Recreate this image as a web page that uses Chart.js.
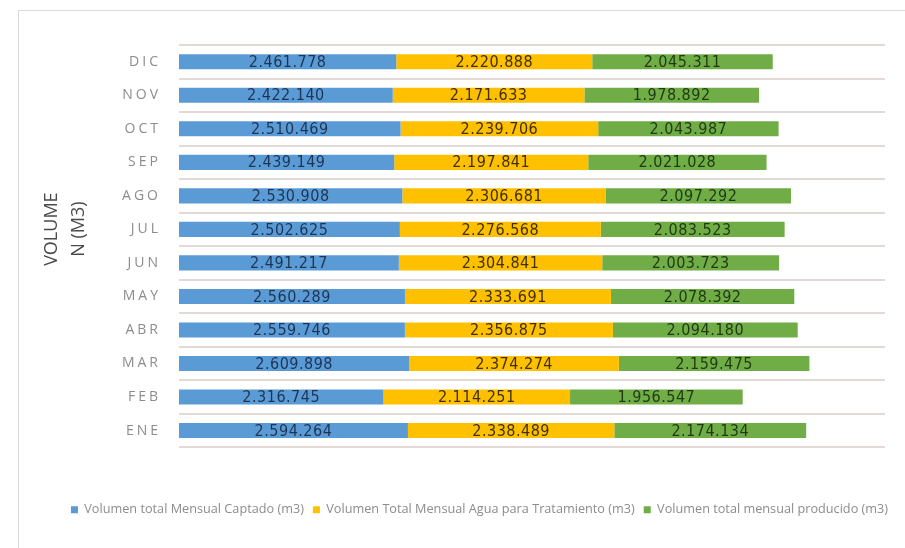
<!DOCTYPE html>
<html><head><meta charset="utf-8">
<script src="https://cdn.jsdelivr.net/npm/chart.js@4/dist/chart.umd.min.js"></script>
<style>
html,body{margin:0;padding:0;background:#fff;width:905px;height:548px;overflow:hidden}
#frame{position:absolute;left:18px;top:10px;width:1000px;height:1000px;border-left:1px solid #d9d9d9;border-top:1px solid #d9d9d9}
#wrap{position:absolute;left:0;top:0;width:905px;height:548px}
</style></head><body>
<div id="frame"></div>
<div id="wrap"><canvas id="c" width="905" height="548"></canvas></div>
<script>
const months = ["ENE","FEB","MAR","ABR","MAY","JUN","JUL","AGO","SEP","OCT","NOV","DIC"];
const captado = [2594264,2316745,2609898,2559746,2560289,2491217,2502625,2530908,2439149,2510469,2422140,2461778];
const tratamiento = [2338489,2114251,2374274,2356875,2333691,2304841,2276568,2306681,2197841,2239706,2171633,2220888];
const producido = [2174134,1956547,2159475,2094180,2078392,2003723,2083523,2097292,2021028,2043987,1978892,2045311];
const seriesNames = ["Volumen total Mensual Captado (m3)","Volumen Total Mensual Agua para Tratamiento (m3)","Volumen total mensual producido (m3)"];
const axisTitle = ["VOLUME","N (M3)"];
const xMax = 8000000;

const fmt = v => String(v).replace(/\B(?=(\d{3})+(?!\d))/g, ".");
const labelColors = ["#1c3557","#3f3000","#1e3a10"];

const valueLabels = {
  id:'valueLabels',
  afterDatasetsDraw(chart){
    const ctx = chart.ctx;
    ctx.save();
    ctx.letterSpacing = '0.5px';
    ctx.font = '16px "DejaVu Sans Condensed", "Liberation Sans Narrow", sans-serif';
    ctx.textAlign='center'; ctx.textBaseline='middle';
    chart.data.datasets.forEach((ds,di)=>{
      const meta = chart.getDatasetMeta(di);
      meta.data.forEach((el,i)=>{
        const cx = (el.x + el.base)/2;
        ctx.fillStyle = labelColors[di];
        ctx.fillText(fmt(ds.data[i]), cx, el.y+1);
      });
    });
    ctx.restore();
  }
};

const chart = new Chart(document.getElementById('c'), {
  type:'bar',
  data:{
    labels: months,
    datasets:[
      {label:seriesNames[0], data:captado, backgroundColor:'#5b9bd5'},
      {label:seriesNames[1], data:tratamiento, backgroundColor:'#ffc000'},
      {label:seriesNames[2], data:producido, backgroundColor:'#70ad47'}
    ]
  },
  options:{
    indexAxis:'y',
    responsive:false,
    animation:false,
    devicePixelRatio:1,
    layout:{padding:{left:30,right:20,top:45,bottom:22}},
    datasets:{bar:{categoryPercentage:1, barPercentage:0.45}},
    scales:{
      x:{stacked:true, min:0, max:xMax, grid:{display:false}, border:{display:false}, ticks:{display:false},
         afterFit(s){ s.height = 47; }},
      y:{stacked:true, reverse:true,
         grid:{color:'#e3d9d7', lineWidth:2, offset:true, drawTicks:false},
         border:{display:false},
         ticks:{color:'#8c8c8c', font:{family:'"Open Sans", sans-serif', size:14}, padding:18},
         title:{display:true, text:axisTitle, color:'#4a4a4a', font:{family:'"Open Sans", sans-serif', size:18, lineHeight:1.5}, padding:{top:8,bottom:0}},
         afterFit(s){ s.width = 149; }}
    },
    plugins:{
      legend:{position:'bottom', labels:{boxWidth:7, boxHeight:7, color:'#8c8c8c', font:{family:'"Open Sans", sans-serif', size:12.7}, padding:9}},
      tooltip:{enabled:false}
    }
  },
  plugins:[valueLabels]
});
const ys = chart.scales.y;
const origDrawLabels = ys.drawLabels.bind(ys);
ys.drawLabels = function(area){
  const ctx = this.ctx;
  ctx.save(); ctx.letterSpacing = '3px';
  origDrawLabels(area);
  ctx.restore();
};
const origDrawTitle = ys.drawTitle.bind(ys);
ys.drawTitle = function(){
  const ctx = this.ctx;
  ctx.save(); ctx.translate(0,-17);
  origDrawTitle();
  ctx.restore();
};
const lg = chart.legend;
const origLegendDraw = lg.draw.bind(lg);
lg.draw = function(){
  const ctx = this.ctx;
  ctx.save(); ctx.translate(22,0);
  origLegendDraw();
  ctx.restore();
};
chart.draw();
</script>
</body></html>
